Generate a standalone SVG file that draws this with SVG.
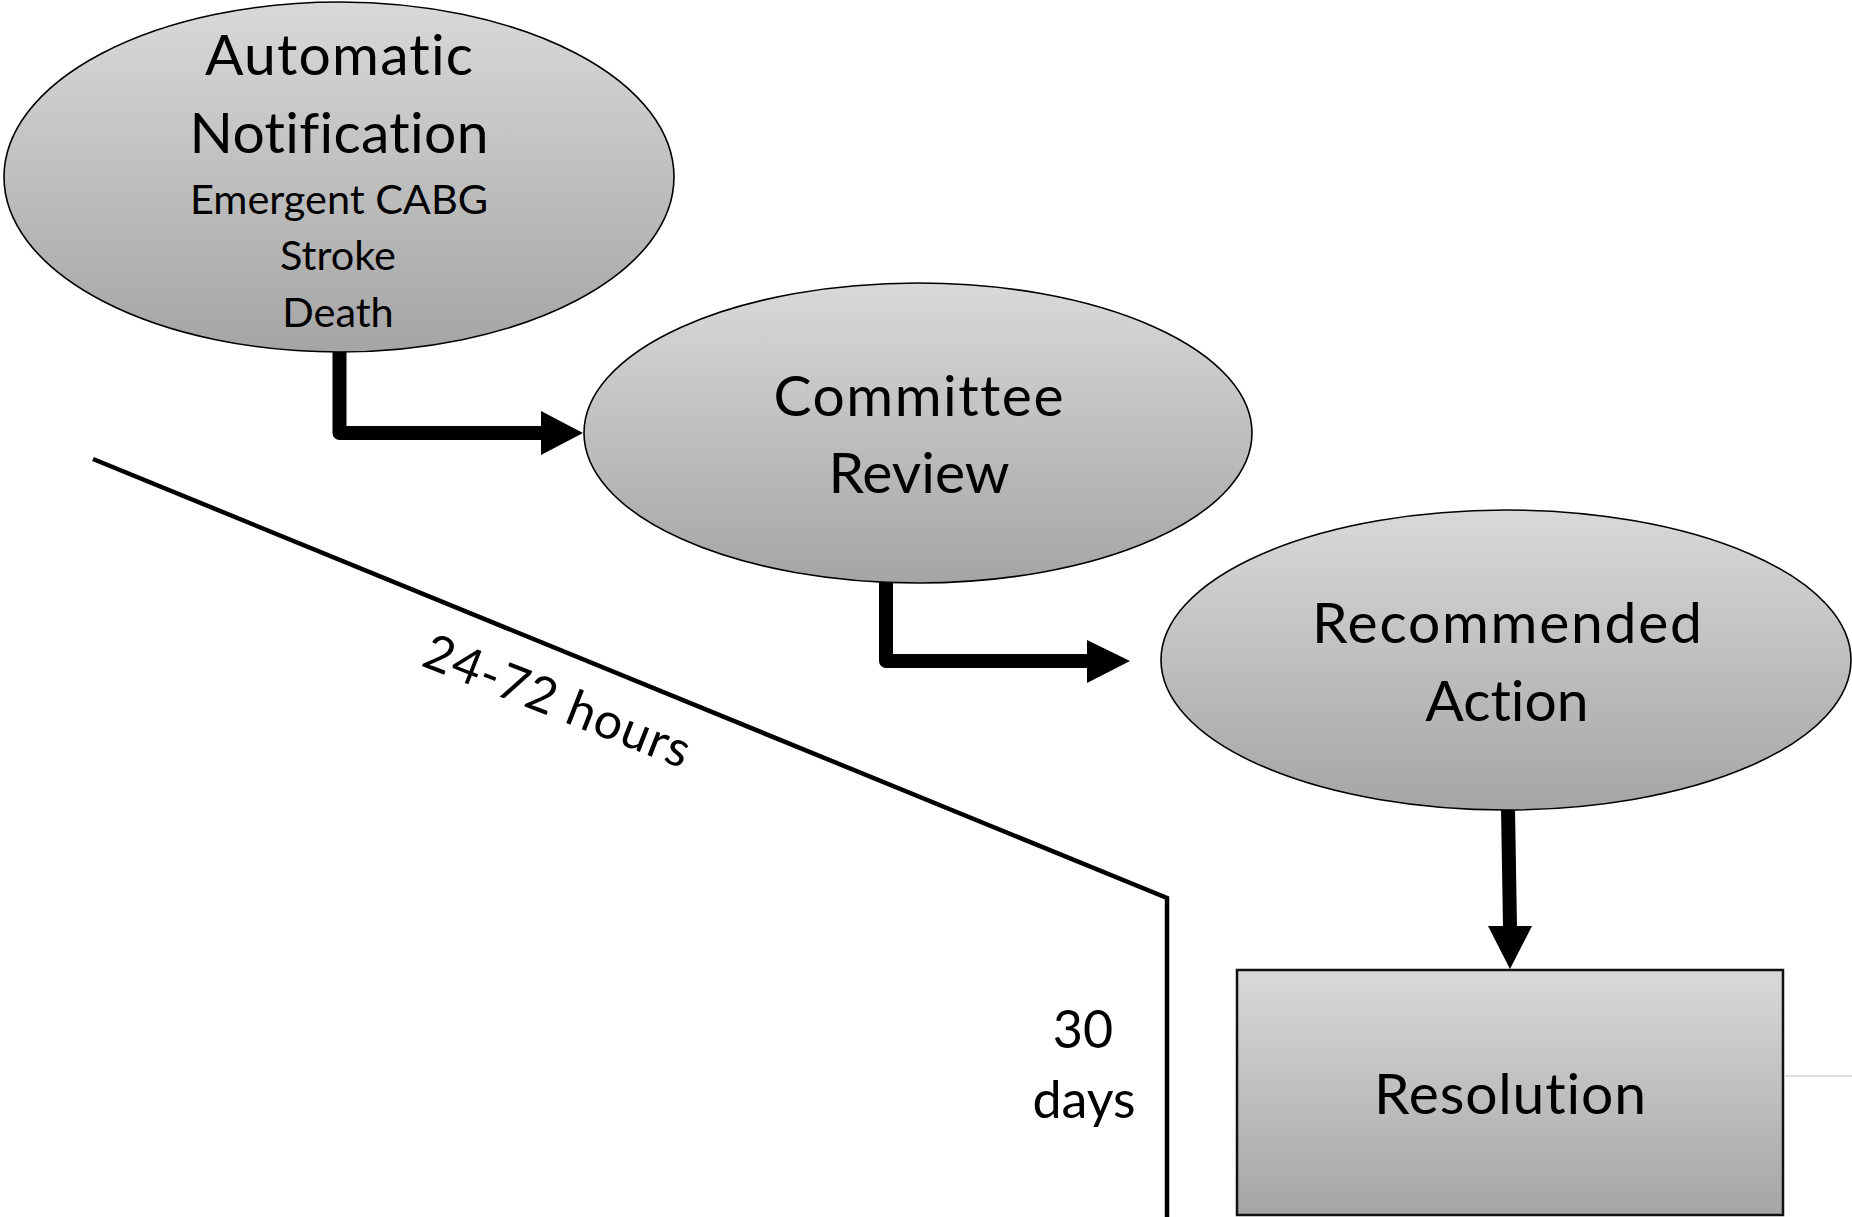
<svg xmlns="http://www.w3.org/2000/svg" width="1852" height="1217" viewBox="0 0 1852 1217">
  <defs>
    <linearGradient id="shade" x1="0" y1="0" x2="0" y2="1">
      <stop offset="0" stop-color="#d9d9d9"/>
      <stop offset="1" stop-color="#a5a5a5"/>
    </linearGradient>
  </defs>
  <style>
    .shape { fill: url(#shade); stroke: #000; stroke-width: 1.6; }
    .box { fill: url(#shade); stroke: #111; stroke-width: 2.5; }
    .lbl { font-family: Lato, "Liberation Sans", sans-serif; fill: #000; text-anchor: middle;
           font-variant-ligatures: none; font-feature-settings: "liga" 0, "clig" 0; }
    .big { font-size: 57px; }
    .small { font-size: 41.5px; }
    .flow { fill: none; stroke: #000; stroke-width: 14; stroke-linejoin: round; }
    .head { fill: #000; }
    .time { fill: none; stroke: #000; stroke-width: 4.5; }
  </style>

  <rect width="1852" height="1217" fill="#fff"/>

  <!-- timeline: 24-72 hours slope, then 30 days drop -->
  <g id="timeline">
    <polyline class="time" points="93,459 1167,898 1167,1217"/>
    <text class="lbl" style="font-size:50px" textLength="282" transform="translate(551,717) rotate(21.5)">24-72 hours</text>
    <text class="lbl" style="font-size:52px" x="1083" y="1048">30</text>
    <text class="lbl" style="font-size:52px" x="1084" y="1118">days</text>
  </g>

  <g id="connectors">
    <path class="flow" d="M339.5 350 V433 H545"/>
    <polygon class="head" points="541,411 583,433 541,455"/>
    <path class="flow" d="M886 579 V661 H1090"/>
    <polygon class="head" points="1087,640 1130,661 1087,683"/>
    <path class="flow" d="M1508 808 L1510 928"/>
    <polygon class="head" points="1488,926 1532,926 1510,969"/>
  </g>

  <g id="node-notification">
    <ellipse class="shape" cx="339" cy="177" rx="335" ry="175"/>
    <text class="lbl big" x="339" y="75" textLength="268">Automatic</text>
    <text class="lbl big" x="339" y="153" textLength="299">Notification</text>
    <text class="lbl small" x="339" y="214" textLength="298">Emergent CABG</text>
    <text class="lbl small" x="338" y="270">Stroke</text>
    <text class="lbl small" x="338" y="327">Death</text>
  </g>

  <g id="node-review">
    <ellipse class="shape" cx="918" cy="433" rx="334" ry="150"/>
    <text class="lbl big" x="918.5" y="416" textLength="290">Committee</text>
    <text class="lbl big" x="919" y="493">Review</text>
  </g>

  <g id="node-action">
    <ellipse class="shape" cx="1506" cy="660" rx="345" ry="150"/>
    <text class="lbl big" x="1507" y="643" textLength="390">Recommended</text>
    <text class="lbl big" x="1507" y="721">Action</text>
  </g>

  <g id="node-resolution">
    <rect class="box" x="1237" y="970" width="546" height="245"/>
    <text class="lbl big" x="1510" y="1114" textLength="272">Resolution</text>
  </g>

  <line x1="1784" y1="1076" x2="1852" y2="1076" stroke="#d4d4d4" stroke-width="1.5"/>
</svg>
